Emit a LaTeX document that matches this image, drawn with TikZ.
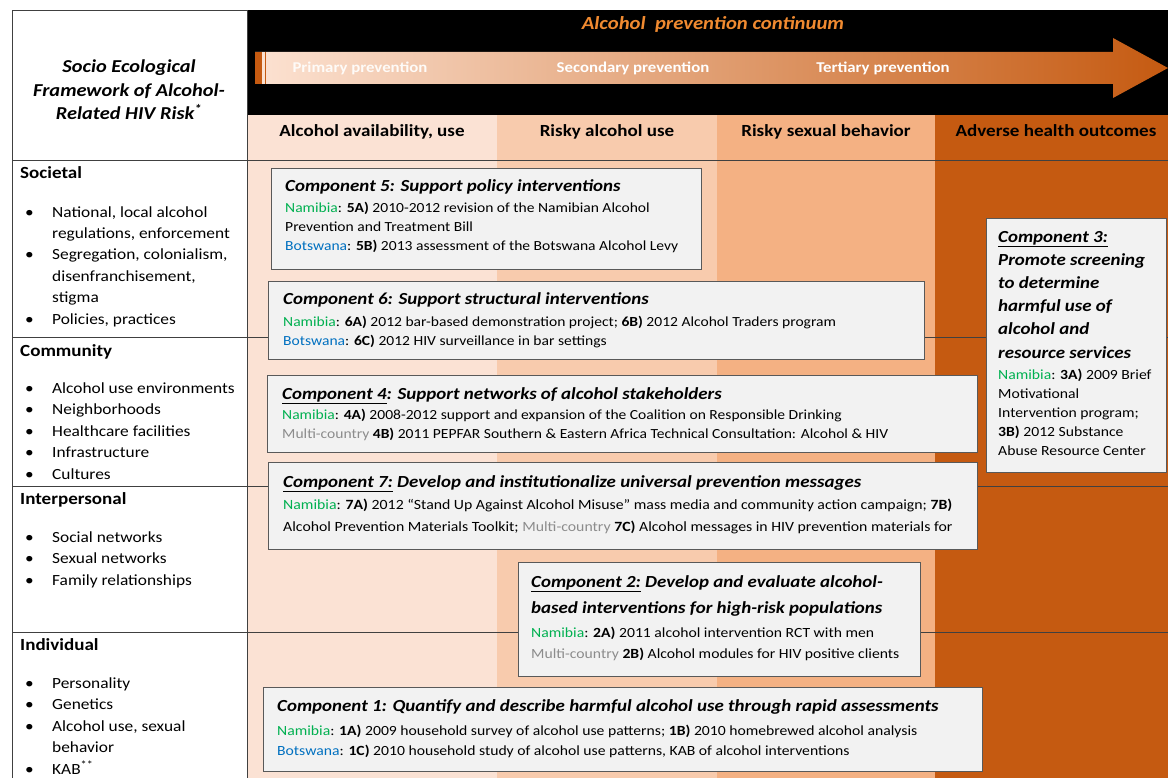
\documentclass[tikz,border=0pt]{standalone}
\usepackage{fontspec}
\setmainfont{Carlito}[FakeStretch=1.12]
\usepackage{tikz}

\definecolor{colA}{HTML}{FBE2D4}
\definecolor{colB}{HTML}{F8CBAD}
\definecolor{colC}{HTML}{F4B183}
\definecolor{colD}{HTML}{C55A11}
\definecolor{arrowlight}{HTML}{FCE2D2}
\definecolor{arrowmid}{HTML}{E6A079}
\definecolor{titleorange}{HTML}{F08A30}
\definecolor{boxgray}{HTML}{F2F2F2}
\definecolor{namgreen}{HTML}{00B050}
\definecolor{botblue}{HTML}{0070C0}
\definecolor{multigray}{HTML}{8C8C8C}

\newcommand{\nam}{\textcolor{namgreen}{Namibia}}
\newcommand{\bots}{\textcolor{botblue}{Botswana}}
\newcommand{\multi}{\textcolor{multigray}{Multi-country}}
\newcommand{\itm}{\makebox[27pt][l]{\textbullet}}
\newcommand{\ind}{\hspace*{27pt}}

\begin{document}
\begin{tikzpicture}[x=1pt,y=-1pt,
    gridline/.style={draw=black!75, line width=0.9pt},
    compbox/.style={draw=black!65, line width=1pt, fill=boxgray, anchor=north west, inner sep=0pt},
    comptitle/.style={anchor=base west, inner sep=0pt, align=left, font=\fontsize{16.9}{22}\selectfont\bfseries\itshape},
    compbody/.style={anchor=base west, inner sep=0pt, align=left, font=\fontsize{13.9}{19}\selectfont},
    levelhead/.style={anchor=base west, inner sep=0pt, font=\fontsize{17}{20}\selectfont\bfseries},
    levellist/.style={anchor=base west, inner sep=0pt, align=left, font=\fontsize{15.5}{21.4}\selectfont},
    colhead/.style={anchor=base, inner sep=0pt, font=\fontsize{17}{20}\selectfont\bfseries},
    stage/.style={anchor=base, inner sep=0pt, text=white, font=\fontsize{15}{18}\selectfont\bfseries}]
    \useasboundingbox (0,0) rectangle (1168,778);
    \fill[white] (0,0) rectangle (1168,778);
    % Columns of the continuum
    \fill[colA] (247,115) rectangle (497,778);
    \fill[colB] (497,115) rectangle (717,778);
    \fill[colC] (717,115) rectangle (935,778);
    \fill[colD] (935,115) rectangle (1168,778);
    % Black header
    \fill[black] (247,10) rectangle (1168,115);
    \node[text=titleorange, anchor=base, inner sep=0pt, font=\fontsize{18.5}{22}\selectfont\bfseries\itshape] (continuum) at (713,30) {Alcohol\ \ prevention continuum};
    % Arrow
    \shade[left color=arrowlight, middle color=arrowmid, right color=colD] (255,52) -- (1113,52) -- (1113,38) -- (1168,68) -- (1113,98) -- (1113,84) -- (255,84) -- cycle;
    \fill[colD] (255,52) rectangle (262,84);
    \draw[colD, line width=0.8pt] (265,52) -- (265,84);
    \node[stage, text=white!85!arrowlight] (primary) at (360,73) {Primary prevention};
    \node[stage] (secondary) at (633,73) {Secondary prevention};
    \node[stage] (tertiary) at (883,73) {Tertiary prevention};
    % Column heads
    \node[colhead] (availability) at (372,137) {Alcohol availability, use};
    \node[colhead] (riskyuse) at (607,137) {Risky alcohol use};
    \node[colhead] (riskysex) at (826,137) {Risky sexual behavior};
    \node[colhead] (outcomes) at (1056,137) {Adverse health outcomes};
    % Grid of the framework
    \draw[gridline] (12,778) -- (12,10) -- (247,10) -- (247,778);
    \foreach \y in {160,337,486,632}
        \draw[gridline] (12,\y) -- (1168,\y);
    % Framework column (multi-line nodes sit on their last baseline)
    \node[anchor=base, inner sep=0pt, align=center, font=\fontsize{18.2}{23.5}\selectfont\bfseries\itshape] (framework) at (129,120)
        {Socio Ecological\\Framework of Alcohol-\\Related HIV Risk\textsuperscript{*}};
    \node[levelhead] (societal) at (20,179) {Societal};
    \node[levellist] (societallist) at (25,324)
        {\itm National, local alcohol\\\ind regulations, enforcement\\\itm Segregation, colonialism,\\\ind disenfranchisement,\\\ind stigma\\\itm Policies, practices};
    \node[levelhead] (community) at (20,356) {Community};
    \node[levellist] (communitylist) at (25,479)
        {\itm Alcohol use environments\\\itm Neighborhoods\\\itm Healthcare facilities\\\itm Infrastructure\\\itm Cultures};
    \node[levelhead] (interpersonal) at (20,504) {Interpersonal};
    \node[levellist] (interpersonallist) at (25,585)
        {\itm Social networks\\\itm Sexual networks\\\itm Family relationships};
    \node[levelhead] (individual) at (20,650) {Individual};
    \node[levellist] (individuallist) at (25,774)
        {\itm Personality\\\itm Genetics\\\itm Alcohol use, sexual\\\ind behavior\\\itm KAB\textsuperscript{**}};
    % Component 5
    \node[compbox, minimum width=430pt, minimum height=101pt] (c5) at (271,168) {};
    \node[comptitle] (c5title) at (285,192) {Component 5: Support policy interventions};
    \node[compbody] (c5body) at (285,251)
        {\nam: \textbf{5A)} 2010-2012 revision of the Namibian Alcohol\\Prevention and Treatment Bill\\\bots: \textbf{5B)} 2013 assessment of the Botswana Alcohol Levy};
    % Component 6
    \node[compbox, minimum width=656pt, minimum height=78pt] (c6) at (268,281) {};
    \node[comptitle] (c6title) at (283,305) {Component 6: Support structural interventions};
    \node[compbody] (c6body) at (283,345)
        {\nam: \textbf{6A)} 2012 bar-based demonstration project; \textbf{6B)} 2012 Alcohol Traders program\\\bots: \textbf{6C)} 2012 HIV surveillance in bar settings};
    % Component 4
    \node[compbox, minimum width=710pt, minimum height=77pt] (c4) at (267,375) {};
    \node[comptitle] (c4title) at (282,399) {\underline{Component 4}: Support networks of alcohol stakeholders};
    \node[compbody] (c4body) at (282,438)
        {\nam: \textbf{4A)} 2008-2012 support and expansion of the Coalition on Responsible Drinking\\\multi\ \textbf{4B)} 2011 PEPFAR Southern \& Eastern Africa Technical Consultation: Alcohol \& HIV};
    % Component 7
    \node[compbox, minimum width=709pt, minimum height=87pt] (c7) at (268,462) {};
    \node[comptitle] (c7title) at (283,487) {\underline{Component 7:} Develop and institutionalize universal prevention messages};
    \node[compbody, font=\fontsize{14.1}{21.5}\selectfont] (c7body) at (283,531)
        {\nam: \textbf{7A)} 2012 ``Stand Up Against Alcohol Misuse'' mass media and community action campaign; \textbf{7B)}\\Alcohol Prevention Materials Toolkit; \multi\ \textbf{7C)} Alcohol messages in HIV prevention materials for};
    % Component 3
    \node[compbox, minimum width=180pt, minimum height=254pt] (c3) at (986,218) {};
    \node[comptitle, font=\fontsize{16.9}{23.2}\selectfont\bfseries\itshape] (c3title) at (998,358)
        {\underline{Component 3:}\\Promote screening\\to determine\\harmful use of\\alcohol and\\resource services};
    \node[compbody, font=\fontsize{14}{19}\selectfont] (c3body) at (998,455)
        {\nam: \textbf{3A)} 2009 Brief\\Motivational\\Intervention program;\\\textbf{3B)} 2012 Substance\\Abuse Resource Center};
    % Component 2
    \node[compbox, minimum width=402pt, minimum height=114pt] (c2) at (518,562) {};
    \node[comptitle, font=\fontsize{16.9}{26}\selectfont\bfseries\itshape] (c2title) at (531,613)
        {\underline{Component 2:} Develop and evaluate alcohol-\\based interventions for high-risk populations};
    \node[compbody, font=\fontsize{14}{21}\selectfont] (c2body) at (531,658)
        {\nam: \textbf{2A)} 2011 alcohol intervention RCT with men\\\multi\ \textbf{2B)} Alcohol modules for HIV positive clients};
    % Component 1
    \node[compbox, minimum width=719pt, minimum height=84pt] (c1) at (263,687) {};
    \node[comptitle] (c1title) at (277,711) {Component 1: Quantify and describe harmful alcohol use through rapid assessments};
    \node[compbody, font=\fontsize{14}{20}\selectfont] (c1body) at (277,755)
        {\nam: \textbf{1A)} 2009 household survey of alcohol use patterns; \textbf{1B)} 2010 homebrewed alcohol analysis\\\bots: \textbf{1C)} 2010 household study of alcohol use patterns, KAB of alcohol interventions};
\end{tikzpicture}
\end{document}
